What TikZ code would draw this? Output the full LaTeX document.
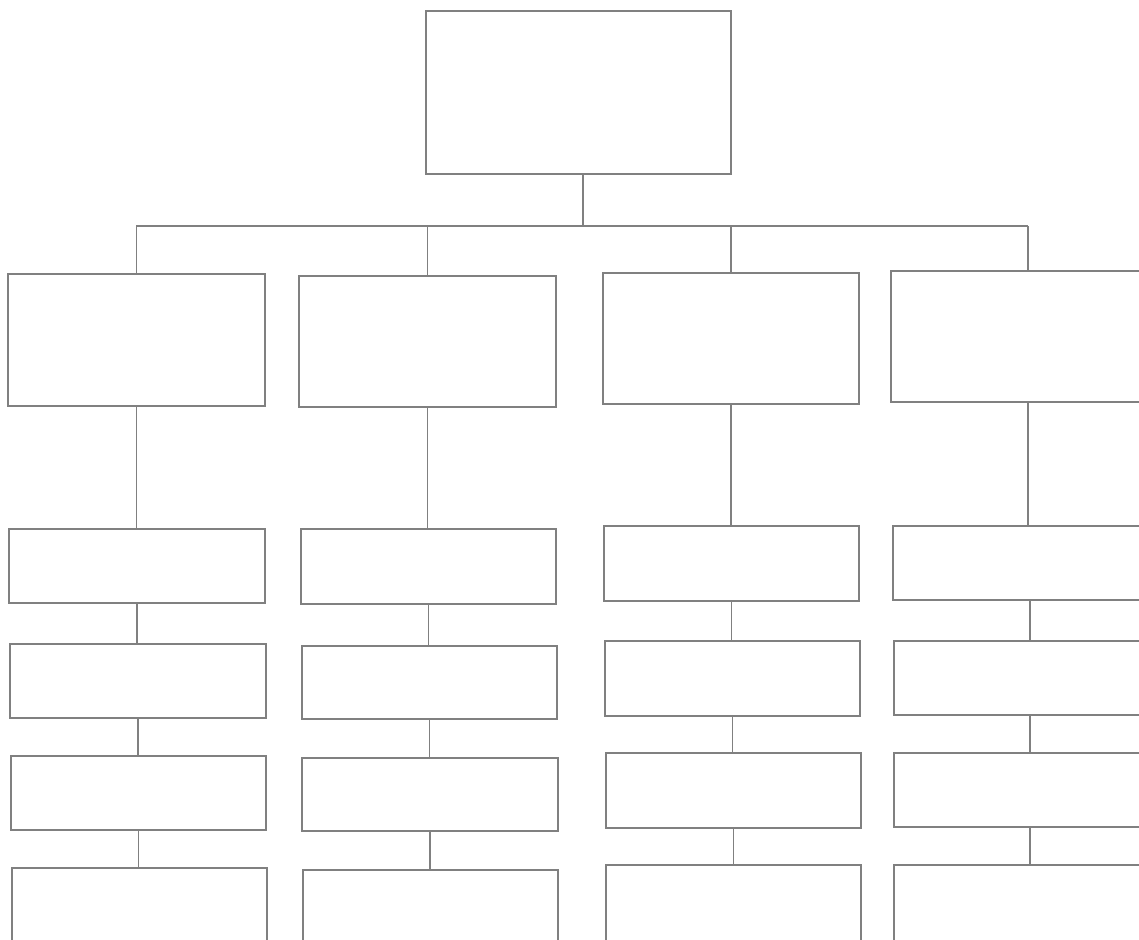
\documentclass[tikz,border=0pt]{standalone}
\begin{document}
\begin{tikzpicture}[x=1pt,y=-1pt,
  box/.style={draw=black!50,line width=1.8pt,anchor=north west,inner sep=0pt,fill=white},
  link/.style={draw=black!50,line width=1.8pt}]
\useasboundingbox (0,0) rectangle (1139,939);
\fill[white] (0,0) rectangle (1139,939);
\clip (0,0) rectangle (1139,939);
\newcommand\mybox[5]{\node[box,minimum width=#4pt,minimum height=#5pt] (#1) at (#2,#3) {};}
% top
\mybox{top}{425}{10}{305}{163}
% row 1
\mybox{a1}{7}{273}{257}{132}
\mybox{b1}{298}{275}{257}{131}
\mybox{c1}{602}{272}{256}{131}
\mybox{d1}{890}{270}{274}{131}
% row 2
\mybox{a2}{8}{528}{256}{74}
\mybox{b2}{300}{528}{255}{75}
\mybox{c2}{603}{525}{255}{75}
\mybox{d2}{892}{525}{274}{74}
% row 3
\mybox{a3}{9}{643}{256}{74}
\mybox{b3}{301}{645}{255}{73}
\mybox{c3}{604}{640}{255}{75}
\mybox{d3}{893}{640}{272}{74}
% row 4
\mybox{a4}{10}{755}{255}{74}
\mybox{b4}{301}{757}{256}{73}
\mybox{c4}{605}{752}{255}{75}
\mybox{d4}{893}{752}{272}{74}
% row 5
\mybox{a5}{11}{867}{255}{90}
\mybox{b5}{302}{869}{255}{90}
\mybox{c5}{605}{864}{255}{90}
\mybox{d5}{893}{864}{272}{90}
% connectors
\coordinate (bus) at (583,226);
\draw[link] (top.south -| bus) -- (bus);
\draw[link] (a1.north |- bus) -- (d1.north |- bus);
\foreach \c in {a,b,c,d}{
  \draw[link] (\c1.north |- bus) -- (\c1.north);
  \draw[link] (\c1.south) -- (\c1.south |- \c2.north);
  \draw[link] (\c2.south) -- (\c2.south |- \c3.north);
  \draw[link] (\c3.south) -- (\c3.south |- \c4.north);
  \draw[link] (\c4.south) -- (\c4.south |- \c5.north);
}
\end{tikzpicture}
\end{document}
